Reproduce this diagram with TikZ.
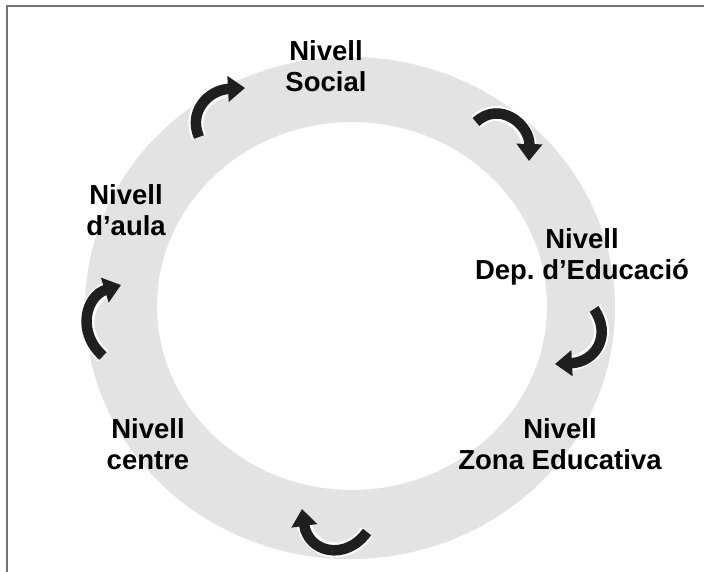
\documentclass[tikz,border=0pt]{standalone}
\usepackage{fontspec}
\setmainfont{Liberation Sans}
\usetikzlibrary{arrows.meta}
\frenchspacing
\begin{document}
\begin{tikzpicture}[x=1pt,y=-1pt,
  lbl/.style={font=\fontsize{27.5}{31}\selectfont\bfseries, align=center, inner sep=0pt, anchor=north},
  cyc/.style={line width=10.5pt, black!88, -{Triangle[length=17pt,width=25pt]}},
  halo/.style={line width=15pt, white, shorten >=12pt}]
\useasboundingbox (0,0) rectangle (704,572);
\fill[white] (0,0) rectangle (704,572);
\draw[black!55, line width=1.5pt] (7,572) -- (7,6) -- (704,6);
% ring
\fill[black!11, even odd rule] (350,308) ellipse [x radius=265pt, y radius=251pt]
  (352,306) ellipse [x radius=195pt, y radius=184pt];
% labels
\node[lbl] (social) at (326,40) {Nivell\\Social};
\node[lbl] (aula) at (126,184) {Nivell\\d’aula};
\node[lbl] (dep) at (582,228) {Nivell\\Dep. d’Educació};
\node[lbl] (zona) at (560,418) {Nivell\\Zona Educativa};
\node[lbl] (centre) at (148,418) {Nivell\\centre};
% arrow end points
\coordinate (a1s) at (199,137); \coordinate (a1e) at (245,88);
\coordinate (a2s) at (476,122); \coordinate (a2e) at (529,161);
\coordinate (a3s) at (594,309); \coordinate (a3e) at (555,364);
\coordinate (a4s) at (367,532); \coordinate (a4e) at (302,509);
\coordinate (a5s) at (103,356); \coordinate (a5e) at (121,285);
% halos
\draw[halo] (a1s) .. controls (188,112) and (208,90) .. (a1e);
\draw[halo] (a2s) .. controls (500,100) and (530,125) .. (a2e);
\draw[halo] (a3s) .. controls (612,335) and (596,362) .. (a3e);
\draw[halo] (a4s) .. controls (345,562) and (308,552) .. (a4e);
\draw[halo] (a5s) .. controls (76,332) and (86,296) .. (a5e);
% arrows
\draw[cyc] (a1s) .. controls (188,112) and (208,90) .. (a1e);
\draw[cyc] (a2s) .. controls (500,100) and (530,125) .. (a2e);
\draw[cyc] (a3s) .. controls (612,335) and (596,362) .. (a3e);
\draw[cyc] (a4s) .. controls (345,562) and (308,552) .. (a4e);
\draw[cyc] (a5s) .. controls (76,332) and (86,296) .. (a5e);
\end{tikzpicture}
\end{document}
